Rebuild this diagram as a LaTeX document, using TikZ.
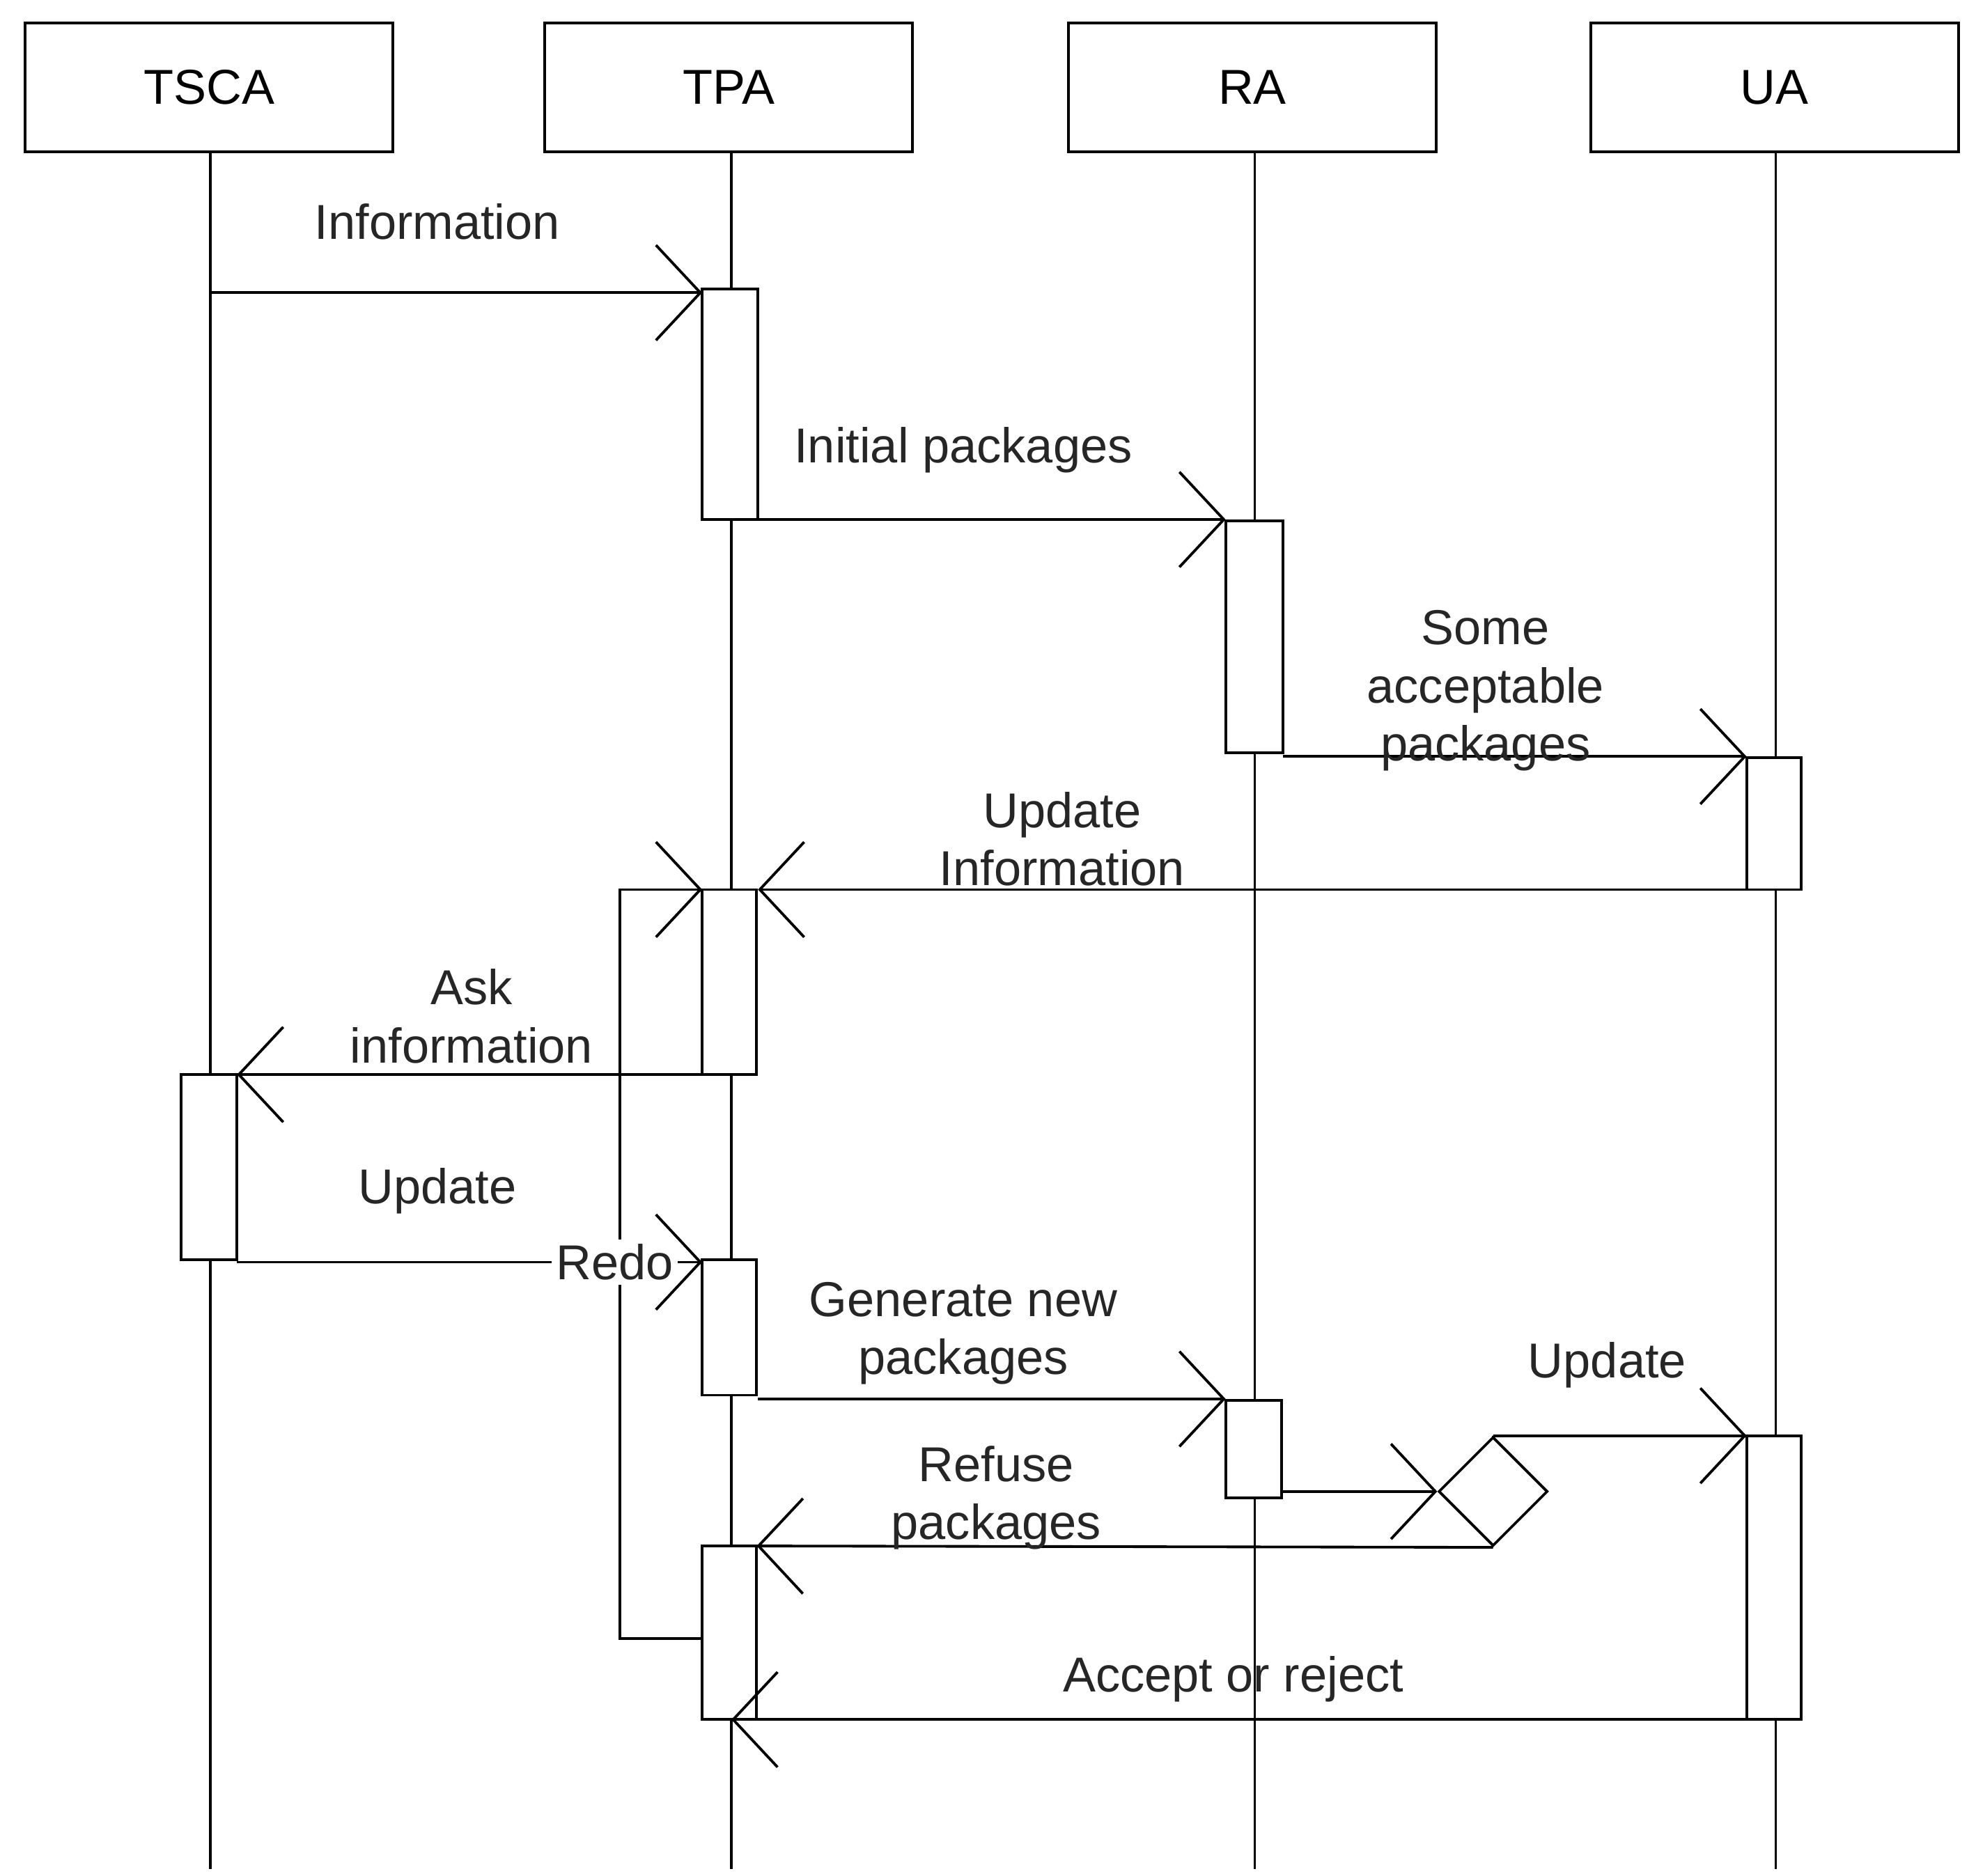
\documentclass[tikz,border=0pt]{standalone}
\usepackage{fontspec}
\setmainfont{Liberation Sans}
\usetikzlibrary{arrows.meta,shapes.geometric}
\begin{document}
\begin{tikzpicture}[x=0.01cm,y=-0.01cm,
  obj/.style={draw,line width=0.6pt,minimum width=2.9cm,minimum height=1.02cm,font=\fontsize{11}{13}\selectfont},
  act/.style={draw,fill=white,line width=0.6pt},
  life/.style={line width=0.6pt},
  msg/.style={line width=0.6pt,-{Straight Barb[length=3.5mm,width=7.5mm]}},
  lbl/.style={font=\fontsize{11}{13}\selectfont,align=center,text=black!85}]
\useasboundingbox (0,0) rectangle (1559,1480);
\node[obj] (tsca) at (165,69) {TSCA};
\node[obj] (tpa) at (575,69) {TPA};
\node[obj] (ra) at (988,69) {RA};
\node[obj] (ua) at (1400,69) {UA};
\coordinate (e1) at (166,1475); \coordinate (e2) at (577,1475);
\coordinate (e3) at (990,1475); \coordinate (e4) at (1401,1475);
\draw[life] (tsca.south -| e1) -- (e1);
\draw[life] (tpa.south -| e2) -- (e2);
\draw[life] (ra.south -| e3) -- (e3);
\draw[life] (ua.south -| e4) -- (e4);
% loop line
\coordinate (l1) at (554,1293); \coordinate (l2) at (489,1293);
\coordinate (l3) at (489,702); \coordinate (l4) at (554,702);
% activations
\draw[act] (554,228) rectangle (598,410);
\draw[act] (967,411) rectangle (1012,594);
\draw[act] (1378,598) rectangle (1421,702);
\draw[act] (554,702) rectangle (597,848);
\draw[act] (143,848) rectangle (187,994);
\draw[act] (554,994) rectangle (597,1101);
\draw[act] (967,1105) rectangle (1011,1182);
\draw[act] (1378,1133) rectangle (1421,1357);
\draw[act] (554,1220) rectangle (597,1357);
\draw[line width=0.6pt,-{Straight Barb[length=3.5mm,width=7.5mm]}] (l1) -- (l2) -- (l3) -- (l4);
\node[draw,diamond,line width=0.6pt,minimum width=0.86cm,minimum height=0.86cm,inner sep=0pt] (d) at (1178,1177) {};
% messages
\coordinate (a1) at (166,231); \coordinate (b1) at (554,231);
\draw[msg] (a1) -- (b1);
\node[lbl] (t1) at (345,175) {Information};
\coordinate (a2) at (598,410); \coordinate (b2) at (967,410);
\draw[msg] (a2) -- (b2);
\node[lbl] (t2) at (760,355) {Initial packages};
\coordinate (a3) at (1012,597); \coordinate (b3) at (1378,597);
\draw[msg] (a3) -- (b3);
\node[lbl] (t3) at (1172,545) {Some\\acceptable\\packages};
\coordinate (a4) at (1378,702); \coordinate (b4) at (598,702);
\draw[msg] (a4) -- (b4);
\node[lbl] (t4) at (838,662) {Update\\Information};
\coordinate (a5) at (554,848); \coordinate (b5) at (187,848);
\draw[msg] (a5) -- (b5);
\node[lbl] (t5) at (372,802) {Ask\\information};
\coordinate (a6) at (187,996); \coordinate (b6) at (554,996);
\draw[msg] (a6) -- (b6);
\node[lbl] (t6) at (345,940) {Update};
\node[lbl,fill=white,inner sep=1pt] (t7) at (485,996) {Redo};
\coordinate (a8) at (598,1104); \coordinate (b8) at (967,1104);
\draw[msg] (a8) -- (b8);
\node[lbl] (t8) at (760,1052) {Generate new\\packages};
\coordinate (a9) at (1011,1177);
\draw[msg] (a9) -- (d.west);
\coordinate (b10) at (1378,1133);
\draw[msg] (d.north) -- (d.north |- b10) -- (b10);
\node[lbl] (t10) at (1268,1077) {Update};
\coordinate (b11) at (597,1220);
\draw[msg] (d.south) -- (b11);
\node[lbl] (t11) at (786,1182) {Refuse\\packages};
\coordinate (a12) at (1378,1357); \coordinate (b12) at (577,1357);
\draw[msg] (a12) -- (b12);
\node[lbl] (t12) at (973,1325) {Accept or reject};
\end{tikzpicture}
\end{document}
